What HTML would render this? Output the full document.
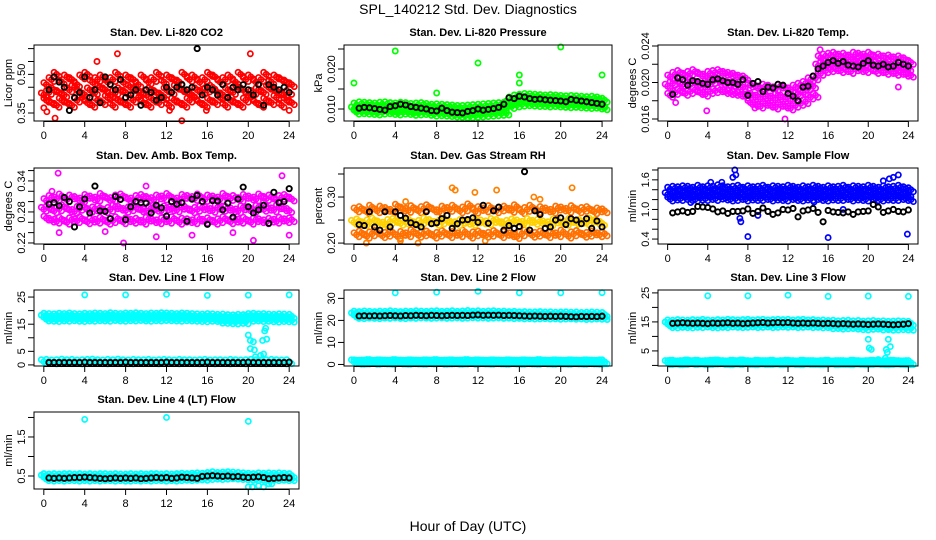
<!DOCTYPE html>
<html><head><meta charset="utf-8">
<style>
html,body{margin:0;padding:0;background:#fff;}
svg{display:block;font-family:"Liberation Sans",sans-serif;}
</style></head>
<body>
<svg id="chart" width="936" height="540" viewBox="0 0 936 540" xmlns="http://www.w3.org/2000/svg">
<text x="468" y="14" font-size="14" text-anchor="middle">SPL_140212  Std. Dev. Diagnostics</text>
<text x="468" y="531" font-size="14" text-anchor="middle">Hour of Day (UTC)</text>
</svg>
<script>
var xTicks = [0,4,8,12,16,20,24];

var co2Mid = [0.42,0.43,0.44,0.43,0.42,0.44,0.45,0.43,0.42,0.44,0.43,0.45,0.44,0.42,0.43,0.44,0.43,0.45,0.44,0.43,0.42,0.44,0.43,0.42,0.44,0.43,0.45,0.44,0.43,0.42,0.44,0.43,0.44,0.45,0.43,0.42,0.44,0.43,0.45,0.44,0.42,0.43,0.44,0.43,0.45,0.44,0.43,0.42,0.43];
var co2Hi = [0.46,0.48,0.50,0.47,0.49,0.48,0.46,0.49,0.50,0.47,0.48,0.49,0.47,0.48,0.50,0.47,0.49,0.48,0.46,0.49,0.47,0.48,0.50,0.47,0.49,0.48,0.47,0.50,0.48,0.49,0.47,0.48,0.50,0.49,0.47,0.48,0.49,0.47,0.50,0.48,0.49,0.47,0.48,0.50,0.47,0.49,0.48,0.47,0.46];
var co2Lo = [0.40,0.39,0.38,0.40,0.39,0.38,0.40,0.41,0.39,0.38,0.40,0.39,0.41,0.38,0.40,0.39,0.38,0.40,0.41,0.39,0.38,0.40,0.39,0.41,0.38,0.40,0.39,0.38,0.40,0.41,0.39,0.38,0.40,0.39,0.41,0.38,0.40,0.39,0.38,0.40,0.41,0.39,0.38,0.40,0.39,0.41,0.38,0.40,0.39];
var co2Black = [0.44,0.49,0.47,0.45,0.36,0.41,0.43,0.49,0.41,0.44,0.39,0.49,0.46,0.44,0.48,0.41,0.42,0.44,0.38,0.44,0.43,0.40,0.41,0.45,0.43,0.45,0.46,0.44,0.45,0.60,0.42,0.45,0.44,0.42,0.46,0.41,0.45,0.44,0.46,0.44,0.42,0.46,0.38,0.46,0.45,0.44,0.45,0.43];
var co2OutX = [0,0.3,1.1,7.2,5.2,13.5,15.9,20.2,24,12.3];
var co2OutY = [0.37,0.355,0.33,0.58,0.55,0.32,0.36,0.58,0.36,0.36];

var pMid = [0.0100,0.0102,0.0101,0.0100,0.0099,0.0101,0.0102,0.0100,0.0099,0.0101,0.0100,0.0098,0.0099,0.0100,0.0099,0.0097,0.0098,0.0097,0.0096,0.0095,0.0094,0.0093,0.0093,0.0094,0.0095,0.0096,0.0097,0.0098,0.0099,0.0100,0.0115,0.0120,0.0122,0.0124,0.0123,0.0122,0.0121,0.0120,0.0121,0.0120,0.0119,0.0118,0.0119,0.0118,0.0117,0.0116,0.0117,0.0115,0.0112];
var pHi = [0.0110,0.0113,0.0112,0.0111,0.0110,0.0112,0.0113,0.0111,0.0110,0.0112,0.0111,0.0109,0.0110,0.0111,0.0109,0.0107,0.0108,0.0107,0.0106,0.0105,0.0104,0.0104,0.0105,0.0106,0.0107,0.0108,0.0109,0.0110,0.0111,0.0112,0.0125,0.0130,0.0132,0.0134,0.0133,0.0132,0.0131,0.0130,0.0131,0.0130,0.0129,0.0128,0.0129,0.0128,0.0127,0.0126,0.0127,0.0125,0.0122];
var pLo = [0.0092,0.0093,0.0092,0.0091,0.0090,0.0092,0.0093,0.0091,0.0090,0.0092,0.0091,0.0089,0.0090,0.0091,0.0089,0.0087,0.0088,0.0087,0.0086,0.0085,0.0084,0.0083,0.0083,0.0084,0.0085,0.0086,0.0087,0.0088,0.0089,0.0090,0.0106,0.0110,0.0112,0.0113,0.0112,0.0111,0.0111,0.0110,0.0111,0.0110,0.0109,0.0108,0.0109,0.0108,0.0107,0.0106,0.0107,0.0105,0.0103];
var pBlack = [0.0102,0.0104,0.0103,0.0101,0.0099,0.0097,0.0106,0.0108,0.0112,0.0110,0.0106,0.0104,0.0102,0.0100,0.0096,0.0095,0.0102,0.0096,0.0092,0.0091,0.0090,0.0094,0.0096,0.0100,0.0097,0.0099,0.0101,0.0104,0.0112,0.0128,0.0126,0.0132,0.0130,0.0126,0.0124,0.0125,0.0123,0.0122,0.0121,0.0120,0.0118,0.0124,0.0122,0.0120,0.0118,0.0116,0.0114,0.0112];
var pOutX = [0,4,8,12,16,16,20,24];
var pOutY = [0.0165,0.0245,0.0140,0.0215,0.0185,0.0165,0.0255,0.0185];

var tMid = [0.0196,0.0199,0.0201,0.0198,0.0200,0.0202,0.0199,0.0197,0.0200,0.0201,0.0203,0.0200,0.0199,0.0198,0.0197,0.0195,0.0188,0.0186,0.0184,0.0187,0.0185,0.0183,0.0186,0.0184,0.0182,0.0185,0.0187,0.0189,0.0194,0.0196,0.0218,0.0221,0.0222,0.0223,0.0221,0.0222,0.0220,0.0223,0.0222,0.0221,0.0223,0.0220,0.0221,0.0219,0.0220,0.0218,0.0219,0.0217,0.0215];
var tHi = [0.0206,0.0209,0.0211,0.0208,0.0210,0.0212,0.0209,0.0207,0.0210,0.0211,0.0212,0.0210,0.0209,0.0208,0.0206,0.0205,0.0197,0.0196,0.0194,0.0196,0.0195,0.0193,0.0196,0.0194,0.0192,0.0195,0.0197,0.0199,0.0203,0.0205,0.0227,0.0229,0.0230,0.0231,0.0229,0.0230,0.0228,0.0231,0.0230,0.0229,0.0231,0.0228,0.0229,0.0227,0.0228,0.0226,0.0227,0.0225,0.0222];
var tLo = [0.0186,0.0189,0.0191,0.0188,0.0190,0.0192,0.0189,0.0187,0.0190,0.0191,0.0192,0.0190,0.0189,0.0188,0.0187,0.0185,0.0178,0.0176,0.0174,0.0177,0.0175,0.0173,0.0176,0.0174,0.0172,0.0175,0.0177,0.0179,0.0184,0.0186,0.0210,0.0213,0.0214,0.0215,0.0213,0.0214,0.0212,0.0215,0.0214,0.0213,0.0215,0.0212,0.0213,0.0211,0.0212,0.0210,0.0211,0.0209,0.0208];
var tBlack = [0.0187,0.0205,0.0203,0.0197,0.0202,0.0201,0.0199,0.0198,0.0203,0.0204,0.0202,0.0200,0.0200,0.0198,0.0203,0.0186,0.0199,0.0201,0.0190,0.0195,0.0194,0.0198,0.0197,0.0188,0.0185,0.0180,0.0195,0.0196,0.0207,0.0215,0.0218,0.0222,0.0224,0.0221,0.0223,0.0219,0.0218,0.0217,0.0221,0.0224,0.0219,0.0218,0.0220,0.0217,0.0218,0.0222,0.0220,0.0218];
var tOutX = [3.9,11.7,15.2,23,8.7,0.8];
var tOutY = [0.0169,0.0160,0.0236,0.0195,0.0172,0.0178];

var aMid = [0.285,0.288,0.282,0.286,0.290,0.284,0.281,0.287,0.289,0.283,0.286,0.288,0.282,0.285,0.290,0.287,0.283,0.286,0.289,0.284,0.282,0.287,0.285,0.283,0.288,0.286,0.284,0.289,0.287,0.282,0.285,0.288,0.286,0.283,0.289,0.285,0.287,0.284,0.282,0.288,0.286,0.283,0.289,0.285,0.287,0.284,0.290,0.286,0.283];
var aHi = [0.302,0.308,0.305,0.311,0.304,0.309,0.306,0.303,0.310,0.307,0.305,0.312,0.306,0.304,0.309,0.311,0.305,0.303,0.308,0.310,0.306,0.304,0.309,0.307,0.312,0.305,0.303,0.310,0.308,0.306,0.311,0.304,0.309,0.307,0.305,0.312,0.306,0.308,0.304,0.310,0.307,0.305,0.311,0.306,0.309,0.304,0.308,0.310,0.305];
var aLo = [0.268,0.264,0.262,0.266,0.260,0.265,0.263,0.267,0.261,0.264,0.262,0.266,0.260,0.263,0.267,0.261,0.265,0.262,0.264,0.260,0.266,0.263,0.261,0.265,0.262,0.267,0.260,0.264,0.263,0.261,0.266,0.262,0.265,0.260,0.263,0.267,0.261,0.264,0.262,0.266,0.260,0.265,0.263,0.261,0.264,0.262,0.266,0.263,0.265];
var aBlack = [0.295,0.298,0.292,0.308,0.300,0.251,0.290,0.305,0.278,0.330,0.282,0.281,0.267,0.310,0.304,0.265,0.290,0.300,0.298,0.297,0.278,0.293,0.288,0.272,0.300,0.295,0.298,0.262,0.305,0.312,0.300,0.256,0.302,0.301,0.284,0.297,0.270,0.305,0.328,0.290,0.278,0.284,0.293,0.258,0.318,0.298,0.300,0.325];
var aOutX = [1.4,1.5,7.8,10.0,0.8,14.5,20.5,23.3,24.0,18.5,11.0,6.0];
var aOutY = [0.355,0.240,0.220,0.330,0.320,0.235,0.225,0.350,0.235,0.240,0.232,0.242];

var rhMid = [0.245,0.248,0.242,0.246,0.250,0.244,0.241,0.247,0.249,0.243,0.246,0.248,0.242,0.245,0.250,0.247,0.243,0.246,0.249,0.244,0.242,0.247,0.245,0.243,0.248,0.246,0.244,0.249,0.247,0.242,0.245,0.248,0.246,0.243,0.249,0.245,0.247,0.244,0.242,0.248,0.246,0.243,0.249,0.245,0.247,0.244,0.250,0.246,0.243];
var rhHi = [0.272,0.275,0.268,0.278,0.270,0.276,0.273,0.269,0.280,0.274,0.271,0.277,0.270,0.275,0.279,0.272,0.268,0.276,0.273,0.278,0.270,0.274,0.281,0.269,0.275,0.272,0.277,0.270,0.274,0.276,0.271,0.279,0.268,0.273,0.278,0.270,0.275,0.272,0.269,0.276,0.274,0.271,0.277,0.270,0.273,0.275,0.268,0.272,0.270];
var rhLo = [0.218,0.222,0.215,0.220,0.224,0.216,0.219,0.223,0.214,0.221,0.218,0.225,0.217,0.220,0.222,0.215,0.219,0.223,0.216,0.221,0.218,0.224,0.215,0.220,0.222,0.217,0.219,0.223,0.216,0.221,0.218,0.214,0.220,0.225,0.217,0.219,0.222,0.216,0.221,0.218,0.224,0.215,0.220,0.223,0.217,0.219,0.222,0.218,0.220];
var rhBlack = [0.240,0.238,0.268,0.235,0.228,0.268,0.235,0.268,0.260,0.254,0.244,0.240,0.235,0.268,0.242,0.244,0.253,0.260,0.232,0.242,0.250,0.251,0.255,0.245,0.282,0.243,0.270,0.278,0.228,0.238,0.232,0.236,0.355,0.228,0.270,0.262,0.232,0.235,0.250,0.255,0.240,0.253,0.250,0.242,0.253,0.232,0.248,0.235];
var rhOutX = [9.5,9.8,11.7,13.8,21.1,5.0,17.4,1.2,6.2,4.5,12.7,18.0];
var rhOutY = [0.320,0.315,0.310,0.315,0.320,0.290,0.300,0.200,0.200,0.205,0.205,0.295];

var sMid = [1.30,1.33,1.31,1.34,1.32,1.30,1.33,1.31,1.34,1.32,1.35,1.33,1.31,1.32,1.34,1.30,1.33,1.31,1.32,1.34,1.30,1.33,1.32,1.31,1.34,1.32,1.30,1.33,1.31,1.34,1.32,1.30,1.33,1.31,1.32,1.34,1.30,1.33,1.32,1.31,1.34,1.32,1.30,1.33,1.31,1.32,1.34,1.31,1.30];
var sHi = [1.41,1.43,1.42,1.44,1.43,1.41,1.45,1.42,1.44,1.43,1.46,1.44,1.42,1.43,1.45,1.41,1.44,1.42,1.43,1.45,1.41,1.44,1.43,1.42,1.45,1.43,1.41,1.44,1.42,1.45,1.43,1.41,1.44,1.42,1.43,1.45,1.41,1.44,1.43,1.42,1.45,1.43,1.41,1.44,1.42,1.43,1.45,1.42,1.40];
var sLo = [1.21,1.23,1.22,1.24,1.22,1.21,1.23,1.22,1.24,1.22,1.25,1.23,1.21,1.22,1.24,1.21,1.23,1.22,1.22,1.24,1.21,1.23,1.22,1.21,1.24,1.22,1.21,1.23,1.22,1.24,1.22,1.21,1.23,1.22,1.22,1.24,1.21,1.23,1.22,1.21,1.24,1.22,1.21,1.23,1.22,1.22,1.24,1.22,1.20];
var sBlack = [0.93,0.95,0.97,0.94,0.96,1.06,1.05,1.04,1.01,0.95,0.97,0.92,0.96,0.96,0.97,1.01,0.92,0.96,1.03,0.96,0.90,0.93,1.00,0.99,1.02,0.85,0.97,0.99,1.02,0.94,0.75,0.98,0.95,0.94,0.93,0.95,0.90,0.95,0.96,0.97,1.10,1.05,0.94,0.97,1.00,0.96,0.95,0.99];
var sOutX = [6.7,6.8,6.5,8.0,16.0,23.9,7.3,7.2,21.5,22.5,23.0,22.1,2.3,17.5,14.6,4.3,5.4,9.0];
var sOutY = [1.80,1.70,1.65,0.45,0.43,0.50,0.75,0.82,1.58,1.65,1.70,1.62,1.14,1.00,1.15,1.55,1.55,0.88];

var l1Mid = [17.6,17.5,17.4,17.6,17.5,17.7,17.5,17.4,17.6,17.5,17.7,17.6,17.5,17.8,17.6,17.5,17.7,17.6,17.8,17.6,17.5,17.7,17.6,17.8,17.7,17.6,17.5,17.7,17.6,17.5,17.4,17.3,17.5,17.4,17.2,17.3,17.1,17.0,17.2,17.1,17.5,17.6,17.4,17.5,17.3,17.2,17.4,17.3,17.2];
var l1Hi = [18.3,18.2,18.1,18.3,18.2,18.4,18.2,18.1,18.3,18.2,18.4,18.3,18.2,18.5,18.3,18.2,18.4,18.3,18.5,18.3,18.2,18.4,18.3,18.5,18.4,18.3,18.2,18.4,18.3,18.2,18.1,18.0,18.2,18.1,17.9,18.0,17.8,17.7,17.9,17.8,18.2,18.3,18.1,18.2,18.0,17.9,18.1,18.0,17.9];
var l1Lo = [16.9,16.8,16.7,16.9,16.8,17.0,16.8,16.7,16.9,16.8,17.0,16.9,16.8,17.1,16.9,16.8,17.0,16.9,17.1,16.9,16.8,17.0,16.9,17.1,17.0,16.9,16.8,17.0,16.9,16.8,16.7,16.6,16.8,16.7,16.1,16.0,15.9,15.8,16.0,15.9,16.8,16.9,16.7,16.8,16.6,16.5,16.7,16.6,16.5];
var l1Low = [1.2,1.3,1.1,1.2,1.4,1.2,1.3,1.1,1.2,1.3,1.4,1.2,1.1,1.3,1.2,1.4,1.2,1.1,1.3,1.2,1.2,1.3,1.1,1.2,1.3,1.2,1.1,1.3,1.2,1.2,1.1,1.2,1.3,1.1,1.2,1.2,1.1,1.3,1.2,1.1,1.2,1.3,1.2,1.1,1.2,1.3,1.2,1.1,1.2];
var l1Black = [0.9,0.9,0.9,0.9,0.9,0.9,0.9,1.0,0.9,0.9,0.9,0.9,0.9,0.9,0.9,1.0,0.9,0.9,0.9,0.9,0.9,0.9,0.9,1.0,0.9,0.9,0.9,0.9,0.9,0.9,0.9,1.0,0.9,0.9,0.9,0.9,0.9,0.9,0.9,1.0,0.9,0.9,0.9,0.9,0.9,0.9,0.9,1.0];
var l1OutX = [4,8,12,16,20,24,20.0,20.2,20.5,20.2,20.6,20.7,21.4,21.8,21.6,21.7,21.5,21.2];
var l1OutY = [25.8,25.8,26.0,25.6,25.7,25.8,11.0,9.0,8.5,6.0,5.5,3.0,9.0,9.5,12.5,13.5,4.0,3.5];

var l2Mid = [22.5,22.4,22.6,22.5,22.4,22.6,22.5,22.7,22.5,22.4,22.6,22.5,22.7,22.6,22.5,22.6,22.7,22.5,22.6,22.7,22.5,22.6,22.8,22.6,22.7,22.5,22.6,22.7,22.5,22.6,22.4,22.5,22.3,22.4,22.2,22.3,22.4,22.2,22.3,22.1,22.2,22.3,22.1,22.2,22.0,22.1,22.2,22.1,22.0];
var l2Hi = [23.3,23.1,23.4,23.2,23.1,23.3,23.2,23.5,23.2,23.1,23.3,23.2,23.5,23.3,23.2,23.4,23.5,23.2,23.3,23.5,23.2,23.4,23.6,23.3,23.5,23.2,23.4,23.5,23.2,23.3,23.1,23.2,23.0,23.1,22.9,23.0,23.1,22.9,23.0,22.8,22.9,23.0,22.8,22.9,22.7,22.8,22.9,22.8,22.7];
var l2Lo = [21.8,21.7,21.9,21.8,21.7,21.9,21.8,22.0,21.8,21.7,21.9,21.8,22.0,21.9,21.8,21.9,22.0,21.8,21.9,22.0,21.8,21.9,22.1,21.9,22.0,21.8,21.9,22.0,21.8,21.9,21.7,21.8,21.6,21.7,21.5,21.6,21.7,21.5,21.6,21.4,21.5,21.6,21.4,21.5,21.3,21.4,21.5,21.4,21.3];
var l2Low = [1.2,1.0,1.1,1.3,1.0,1.2,1.1,1.0,1.3,1.1,1.0,1.2,1.1,1.0,1.2,1.1,1.3,1.0,1.1,1.2,1.0,1.1,1.3,1.0,1.2,1.1,1.0,1.2,1.1,1.0,1.2,1.1,1.0,1.2,1.1,1.0,1.3,1.1,1.0,1.2,1.1,1.0,1.2,1.1,1.0,1.2,1.1,1.0,1.2];
var l2Black = [22.0,22.1,22.0,22.1,22.0,22.1,22.2,22.1,22.0,22.2,22.1,22.3,22.2,22.1,22.3,22.2,22.1,22.2,22.3,22.2,22.3,22.2,22.4,22.5,22.3,22.4,22.3,22.4,22.2,22.3,22.2,22.1,22.0,21.9,22.0,21.9,21.8,21.9,21.8,21.9,21.8,21.7,21.6,21.8,21.7,21.8,21.7,21.9];
var l2OutX = [4,8,12,16,20,24];
var l2OutY = [32.5,32.8,33.2,32.5,32.5,32.6];

var l3Mid = [14.3,14.2,14.4,14.3,14.2,14.4,14.3,14.5,14.3,14.2,14.4,14.3,14.5,14.4,14.3,14.4,14.5,14.3,14.4,14.5,14.3,14.4,14.5,14.4,14.5,14.3,14.4,14.5,14.3,14.4,14.2,14.3,14.1,14.2,14.0,14.1,14.2,14.0,14.1,13.9,14.0,14.1,13.9,14.0,13.8,13.9,14.0,13.9,13.8];
var l3Hi = [15.0,14.9,15.1,15.0,14.9,15.1,15.0,15.2,15.0,14.9,15.1,15.0,15.2,15.1,15.0,15.1,15.2,15.0,15.1,15.2,15.0,15.1,15.2,15.1,15.2,15.0,15.1,15.2,15.0,15.1,14.9,15.0,14.8,14.9,14.7,14.8,14.9,14.7,14.8,14.6,14.7,14.8,14.6,14.7,14.5,14.6,14.7,14.6,14.5];
var l3Lo = [13.7,13.6,13.8,13.7,13.6,13.8,13.7,13.9,13.7,13.6,13.8,13.7,13.9,13.8,13.7,13.8,13.9,13.7,13.8,13.9,13.7,13.8,13.9,13.8,13.9,13.7,13.8,13.9,13.7,13.8,13.6,13.7,13.3,13.4,13.2,13.3,13.4,13.2,13.0,12.9,13.1,13.2,12.9,13.0,12.8,12.9,13.0,12.9,12.8];
var l3Low = [1.0,1.1,0.9,1.0,1.2,1.0,1.1,0.9,1.0,1.1,1.2,1.0,0.9,1.1,1.0,1.2,1.0,0.9,1.1,1.0,1.0,1.1,0.9,1.0,1.1,1.0,0.9,1.1,1.0,1.0,0.9,1.0,1.1,0.9,1.0,1.0,0.9,1.1,1.0,0.9,1.0,1.1,1.0,0.9,1.0,1.1,1.0,0.9,1.0];
var l3Black = [14.5,14.6,14.7,14.6,14.5,14.6,14.5,14.4,14.6,14.5,14.6,14.7,14.5,14.6,14.4,14.5,14.6,14.7,14.8,14.6,14.7,14.8,14.7,14.8,14.6,14.5,14.6,14.5,14.6,14.5,14.4,14.5,14.4,14.3,14.4,14.3,14.2,14.3,14.2,14.1,14.2,14.3,14.2,14.1,14.0,14.1,14.2,14.4];
var l3OutX = [4,8,12,16,20,24,20.0,20.1,20.3,21.0,21.7,21.8,22.0,22.2,21.9,22.0];
var l3OutY = [24.0,24.0,24.2,23.8,23.9,23.8,9.0,6.0,5.5,2.0,2.5,5.5,9.0,6.5,4.5,12.5];

var l4Mid = [0.47,0.46,0.47,0.46,0.47,0.47,0.46,0.47,0.46,0.47,0.46,0.47,0.47,0.46,0.47,0.46,0.46,0.47,0.46,0.47,0.46,0.47,0.47,0.46,0.47,0.46,0.47,0.48,0.47,0.48,0.49,0.48,0.50,0.51,0.50,0.51,0.52,0.51,0.50,0.49,0.48,0.47,0.48,0.47,0.48,0.47,0.48,0.47,0.47];
var l4Hi = [0.51,0.50,0.51,0.50,0.51,0.51,0.50,0.51,0.50,0.51,0.50,0.51,0.51,0.50,0.51,0.50,0.50,0.51,0.50,0.51,0.50,0.51,0.51,0.50,0.51,0.50,0.51,0.52,0.51,0.52,0.53,0.52,0.54,0.56,0.54,0.55,0.56,0.55,0.54,0.53,0.52,0.51,0.53,0.52,0.53,0.52,0.53,0.52,0.51];
var l4Lo = [0.43,0.42,0.43,0.42,0.43,0.43,0.42,0.43,0.42,0.43,0.42,0.43,0.43,0.42,0.43,0.42,0.42,0.43,0.42,0.43,0.42,0.43,0.43,0.42,0.43,0.42,0.43,0.44,0.43,0.44,0.45,0.44,0.46,0.47,0.46,0.47,0.48,0.47,0.46,0.45,0.44,0.43,0.44,0.43,0.44,0.43,0.44,0.43,0.43];
var l4Black = [0.45,0.44,0.45,0.44,0.45,0.46,0.46,0.47,0.46,0.45,0.44,0.43,0.44,0.45,0.44,0.45,0.44,0.45,0.43,0.44,0.45,0.46,0.45,0.46,0.44,0.45,0.47,0.46,0.45,0.44,0.49,0.50,0.51,0.50,0.49,0.50,0.48,0.49,0.47,0.46,0.47,0.48,0.46,0.43,0.44,0.45,0.46,0.45];
var l4OutX = [4,12,20,20.0,20.4,21.0,21.5,22.0,22.3];
var l4OutY = [1.95,2.00,1.90,0.22,0.22,0.25,0.22,0.30,0.30];

var COLS = [{l:34,r:299},{l:344,r:612},{l:658,r:918}];
var ROWS = [{t:45,b:121},{t:168,b:244},{t:290,b:366},{t:412,b:489}];

var panels = [
 {name:'co2',title:'Stan. Dev. Li-820 CO2',yt:'Licor ppm',c:0,r:0,ylim:[0.319,0.614],ticks:[0.35,0.40,0.45,0.50,0.55,0.60],labs:['0.35','','','0.50','',''],
  col:[['#ff0000',co2Lo,0.25],['#ff0000',co2Hi,0.25],['#ff0000',co2Mid,0]],black:co2Black,out:[co2OutX,co2OutY,'#ff0000']},
 {name:'pressure',title:'Stan. Dev. Li-820 Pressure',yt:'kPa',c:1,r:0,ylim:[0.0070,0.0260],ticks:[0.010,0.015,0.020,0.025],labs:['0.010','','0.020',''],
  col:[['#00ff00',pLo,0.25],['#00ff00',pHi,0.25],['#00ff00',pMid,0]],black:pBlack,out:[pOutX,pOutY,'#00ff00']},
 {name:'temp',title:'Stan. Dev. Li-820 Temp.',yt:'degrees C',c:2,r:0,ylim:[0.01578,0.02411],ticks:[0.016,0.018,0.020,0.022,0.024],labs:['0.016','','0.020','','0.024'],
  col:[['#ff00ff',tLo,0.25],['#ff00ff',tHi,0.25],['#ff00ff',tMid,0]],black:tBlack,out:[tOutX,tOutY,'#ff00ff']},
 {name:'amb-temp',title:'Stan. Dev. Amb. Box Temp.',yt:'degrees C',c:0,r:1,ylim:[0.218,0.365],ticks:[0.22,0.24,0.26,0.28,0.30,0.32,0.34,0.36],labs:['0.22','','','0.28','','','0.34',''],
  col:[['#ff00ff',aLo,0.25],['#ff00ff',aHi,0.25],['#ff00ff',aMid,0]],black:aBlack,out:[aOutX,aOutY,'#ff00ff']},
 {name:'rh',title:'Stan. Dev. Gas Stream RH',yt:'percent',c:1,r:1,ylim:[0.198,0.363],ticks:[0.20,0.25,0.30,0.35],labs:['0.20','','0.30',''],
  col:[['#ff7000',rhLo,0.25],['#ff7000',rhHi,0.25],['#ffd000',rhMid,0]],black:rhBlack,out:[rhOutX,rhOutY,'#ff8000']},
 {name:'sample-flow',title:'Stan. Dev. Sample Flow',yt:'ml/min',c:2,r:1,ylim:[0.30,1.84],ticks:[0.4,0.6,0.8,1.0,1.2,1.4,1.6,1.8],labs:['0.4','','','1.0','','','1.6',''],
  col:[['#0000ff',sLo,0.25],['#0000ff',sHi,0.25],['#0000ff',sMid,0]],black:sBlack,out:[sOutX,sOutY,'#0000ff']},
 {name:'line1',title:'Stan. Dev. Line 1 Flow',yt:'ml/min',c:0,r:2,ylim:[-0.4,27.6],ticks:[0,5,10,15,20,25],labs:['0','5','','15','','25'],
  col:[['#00ffff',l1Lo,0.25],['#00ffff',l1Hi,0.25],['#00ffff',l1Mid,0],['#00ffff',l1Low,0]],black:l1Black,out:[l1OutX,l1OutY,'#00ffff']},
 {name:'line2',title:'Stan. Dev. Line 2 Flow',yt:'ml/min',c:1,r:2,ylim:[-0.7,33.8],ticks:[0,10,20,30],labs:['0','10','20','30'],
  col:[['#00ffff',l2Lo,0.25],['#00ffff',l2Hi,0.25],['#00ffff',l2Mid,0],['#00ffff',l2Low,0],['#00ffff',l2Low,0.25]],black:l2Black,out:[l2OutX,l2OutY,'#00ffff']},
 {name:'line3',title:'Stan. Dev. Line 3 Flow',yt:'ml/min',c:2,r:2,ylim:[-0.2,26.0],ticks:[0,5,10,15,20,25],labs:['','5','','15','','25'],
  col:[['#00ffff',l3Lo,0.25],['#00ffff',l3Hi,0.25],['#00ffff',l3Mid,0],['#00ffff',l3Low,0],['#00ffff',l3Low,0.25]],black:l3Black,out:[l3OutX,l3OutY,'#00ffff']},
 {name:'line4',title:'Stan. Dev. Line 4 (LT) Flow',yt:'ml/min',c:0,r:3,ylim:[0.167,2.14],ticks:[0.5,1.0,1.5,2.0],labs:['0.5','','1.5',''],
  col:[['#00ffff',l4Lo,0.25],['#00ffff',l4Hi,0.25],['#00ffff',l4Mid,0]],black:l4Black,out:[l4OutX,l4OutY,'#00ffff']}
];

var NS = 'http://www.w3.org/2000/svg';
var svg = document.getElementById('chart');
function mk(tag, attrs, parent){
  var e = document.createElementNS(NS, tag);
  for (var k in attrs) e.setAttribute(k, attrs[k]);
  (parent||svg).appendChild(e);
  return e;
}
var XMIN = -0.96, XMAX = 24.96;
// marker glyph: a small cluster of circles (pixel offsets) to mimic dense overplotting
var CLUSTER = [[-2.5,-2],[0,0],[2.5,2]];

panels.forEach(function(p){
  var B = {l:COLS[p.c].l, r:COLS[p.c].r, t:ROWS[p.r].t, b:ROWS[p.r].b};
  var xs = function(v){ return B.l + (v - XMIN) / (XMAX - XMIN) * (B.r - B.l); };
  var ys = function(v){ return B.b - (v - p.ylim[0]) / (p.ylim[1] - p.ylim[0]) * (B.b - B.t); };
  var g = mk('g', {});
  
  

  var tt = mk('text', {x:(B.l+B.r)/2, y:B.t-9, 'font-size':11, 'font-weight':'bold', 'text-anchor':'middle'}, g);
  tt.textContent = p.title;
  
  

  var yt = mk('text', {x:0, y:0, 'font-size':11, 'text-anchor':'middle', transform:'translate(' + (B.l-22) + ',' + ((B.t+B.b)/2) + ') rotate(-90)'}, g);
  yt.textContent = p.yt;
  
  

  var pts = mk('g', {fill:'none', 'stroke-width':1.7}, g);
  
  
  p.col.forEach(function(s){
    s[1].forEach(function(v, i){
      var cx = xs(i*0.5 + s[2]), cy = ys(v);
      CLUSTER.forEach(function(o){
        var c = mk('circle', {cx:cx+o[0], cy:cy+o[1], r:2.6, stroke:s[0]}, pts);
        
        
      });
    });
  });
  p.out[0].forEach(function(x, i){
    var c = mk('circle', {cx:xs(x), cy:ys(p.out[1][i]), r:2.6, stroke:p.out[2]}, pts);
    
    
  });
  p.black.forEach(function(v, i){
    var c = mk('circle', {cx:xs(0.5 + i*0.5), cy:ys(v), r:2.6, stroke:'#000', 'stroke-width':1.9}, pts);
    
    
  });

  var box = mk('rect', {x:B.l, y:B.t, width:B.r-B.l, height:B.b-B.t, fill:'none', stroke:'#000', 'stroke-width':1}, g);
  
  

  var xa = mk('g', {'font-size':11, 'text-anchor':'middle'}, g);
  
  
  mk('line', {x1:xs(0), x2:xs(24), y1:B.b+0.5, y2:B.b+0.5, stroke:'#000'}, xa);
  xTicks.forEach(function(v){
    mk('line', {x1:xs(v), x2:xs(v), y1:B.b, y2:B.b+6, stroke:'#000'}, xa);
    var t = mk('text', {x:xs(v), y:B.b+18}, xa);
    t.textContent = v;
    
    
  });

  var ya = mk('g', {'font-size':11, 'text-anchor':'middle'}, g);
  
  
  p.ticks.forEach(function(v, i){
    var y = ys(v);
    if (y < B.t - 1 || y > B.b + 1) return;
    mk('line', {x1:B.l-6, x2:B.l, y1:y, y2:y, stroke:'#000'}, ya);
    if (p.labs[i]) {
      var t = mk('text', {x:0, y:0, transform:'translate(' + (B.l-9) + ',' + y + ') rotate(-90)'}, ya);
      t.textContent = p.labs[i];
      
      
    }
  });
});
</script>
</body></html>
